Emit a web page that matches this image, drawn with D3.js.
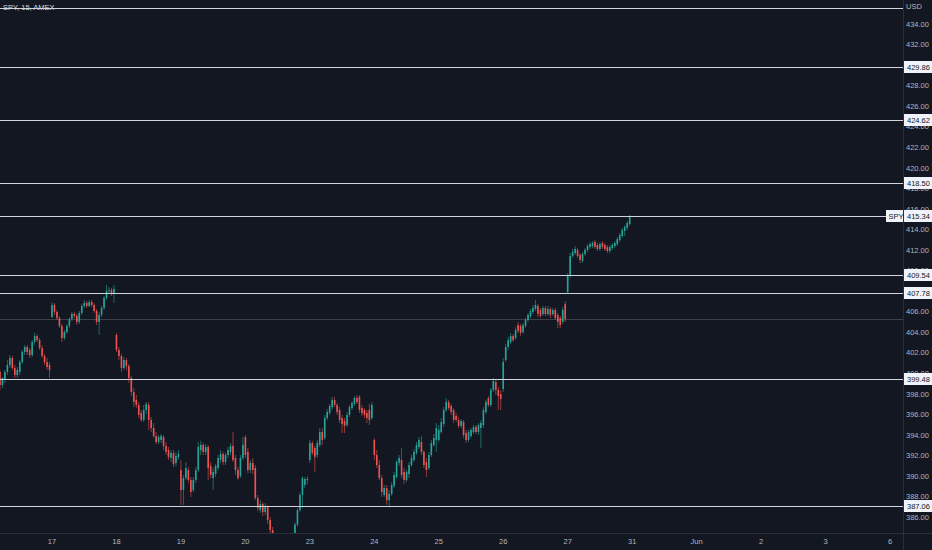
<!DOCTYPE html>
<html lang="en">
<head>
<meta charset="UTF-8">
<title>SPY, 15, AMEX</title>
<script src="https://d3js.org/d3.v7.min.js"></script>
<style>
  html, body { margin: 0; padding: 0; background: #131722; overflow: hidden; }
  #chart text { font-family: 'Liberation Sans', Roboto, sans-serif; }
</style>
</head>
<body>
<div id="chart"></div>
<script>
// 15 minute bars, [open, high, low, close] per bar, one array per session
const may16 = [
  [400.14, 400.34, 398.39, 398.88], [398.88, 399.65, 398.58, 399.56], [399.36, 400.34, 399.07, 400.14],
  [400.14, 401.31, 399.85, 400.82], [400.82, 401.79, 400.53, 401.50], [401.50, 401.70, 400.34, 400.53],
  [400.53, 400.82, 399.56, 399.85], [399.85, 400.63, 399.56, 400.34], [400.14, 401.31, 399.85, 401.11],
  [401.11, 402.28, 400.92, 402.09], [402.09, 402.77, 401.79, 402.57], [402.57, 402.77, 401.79, 402.09],
  [402.28, 402.48, 401.50, 401.79], [401.79, 403.25, 401.60, 403.06], [403.06, 403.94, 402.77, 403.64],
  [403.64, 403.84, 403.06, 403.25], [403.25, 403.45, 402.28, 402.48], [402.48, 402.77, 401.50, 401.70],
  [401.70, 401.90, 400.82, 401.11], [401.11, 401.50, 400.34, 400.63], [400.82, 401.11, 399.56, 400.34]
];
const may17 = [
  [405.49, 406.95, 405.39, 406.66], [406.66, 406.85, 405.69, 405.98], [405.98, 406.17, 405.20, 405.39],
  [405.39, 405.59, 404.42, 404.62], [404.62, 404.81, 403.06, 403.45], [403.45, 404.23, 403.25, 404.03],
  [404.03, 404.81, 403.84, 404.62], [404.62, 405.49, 404.42, 405.30], [405.30, 405.98, 405.10, 405.78],
  [405.78, 405.98, 405.39, 405.59], [405.59, 405.78, 404.71, 405.01], [405.01, 406.08, 404.81, 405.88],
  [405.88, 406.75, 405.69, 406.56], [406.56, 407.15, 406.37, 406.85], [406.85, 407.05, 406.37, 406.56],
  [406.56, 407.15, 406.46, 406.95], [406.95, 407.15, 406.46, 406.66], [406.66, 406.85, 405.88, 406.08],
  [406.08, 406.27, 404.71, 405.01], [405.01, 405.98, 403.74, 405.69], [405.69, 406.56, 405.49, 406.37],
  [406.37, 407.54, 406.17, 407.34], [407.34, 408.60, 407.15, 408.02], [408.02, 408.41, 407.73, 408.12],
  [408.12, 408.31, 407.54, 407.83], [407.83, 408.60, 406.85, 408.22]
];
const may18 = [
  [403.74, 403.94, 402.09, 402.28], [402.28, 402.57, 401.31, 401.70], [401.70, 401.90, 400.14, 400.53],
  [400.53, 401.60, 400.34, 401.31], [401.31, 401.50, 400.34, 400.72], [400.72, 400.92, 399.07, 399.56],
  [399.56, 399.75, 397.80, 398.19], [398.19, 398.58, 396.73, 397.22], [397.42, 397.90, 396.64, 396.93],
  [396.93, 397.22, 395.66, 395.96], [396.15, 396.44, 395.27, 395.47], [395.47, 396.93, 395.27, 396.44],
  [396.44, 397.22, 396.05, 397.03], [396.93, 397.22, 394.50, 395.47], [395.47, 395.76, 394.30, 394.69],
  [394.69, 395.18, 393.72, 393.91], [393.91, 394.30, 393.13, 393.33], [393.33, 394.01, 393.13, 393.81],
  [393.52, 394.11, 393.23, 393.91], [393.81, 394.01, 392.55, 392.94], [392.94, 393.33, 392.06, 392.36],
  [392.55, 392.84, 391.58, 391.87], [391.77, 392.55, 391.38, 392.26], [392.26, 392.55, 390.90, 391.19],
  [391.29, 392.36, 390.99, 391.97], [391.87, 392.55, 391.58, 392.16]
];
const may19 = [
  [390.60, 391.58, 387.20, 388.66], [388.66, 390.12, 387.20, 389.82], [389.82, 391.38, 389.63, 390.80],
  [390.60, 390.90, 389.34, 389.63], [389.63, 389.92, 387.98, 388.46], [388.66, 389.92, 388.46, 389.63],
  [389.63, 390.90, 389.34, 390.60], [390.60, 393.33, 390.41, 392.84], [392.55, 393.43, 392.06, 393.04],
  [393.04, 393.23, 392.06, 392.36], [392.36, 393.13, 392.06, 392.84], [392.84, 393.04, 389.63, 390.80],
  [391.00, 391.38, 389.82, 390.12], [389.82, 390.80, 388.66, 390.41], [390.21, 391.19, 389.92, 391.00],
  [390.80, 392.06, 390.60, 391.77], [391.58, 392.55, 391.29, 392.16], [392.16, 392.36, 391.09, 391.38],
  [391.38, 392.26, 391.09, 392.06], [392.06, 392.84, 391.77, 392.55], [392.36, 393.23, 392.06, 392.94],
  [392.94, 394.30, 391.38, 391.58], [391.77, 392.06, 390.12, 390.60], [390.60, 390.90, 389.63, 389.82],
  [390.02, 392.06, 389.82, 391.77], [391.77, 393.81, 391.58, 393.04]
];
const may20 = [
  [393.81, 394.01, 391.77, 392.06], [392.36, 392.74, 390.31, 390.60], [390.60, 391.58, 390.31, 391.29],
  [391.29, 391.77, 390.21, 390.60], [390.80, 391.09, 387.67, 387.88], [387.88, 388.17, 386.62, 386.91],
  [386.71, 387.67, 386.42, 387.29], [387.29, 387.49, 386.13, 386.52], [386.52, 387.39, 386.23, 387.00],
  [387.00, 387.20, 385.35, 385.74], [385.74, 386.03, 384.28, 384.77], [384.77, 385.06, 383.40, 383.79],
  [383.79, 384.20, 382.60, 382.90], [382.90, 383.60, 382.50, 383.30], [383.30, 383.50, 381.60, 381.90],
  [381.90, 382.30, 380.90, 381.20], [381.20, 382.00, 380.54, 381.80], [381.80, 382.10, 380.80, 381.10],
  [381.10, 382.40, 380.90, 382.20], [382.20, 383.50, 381.90, 383.20], [383.20, 385.50, 382.90, 385.30],
  [385.30, 386.90, 385.10, 386.70], [386.70, 388.40, 386.50, 388.17], [388.17, 390.00, 386.90, 389.82],
  [389.14, 389.92, 388.85, 389.73], [389.73, 390.00, 389.20, 389.63]
];
const may23 = [
  [391.58, 393.52, 391.29, 393.23], [393.23, 393.43, 392.06, 392.26], [392.74, 392.94, 390.41, 391.87],
  [392.06, 393.52, 391.77, 393.23], [393.04, 394.69, 392.84, 394.30], [394.30, 394.69, 393.04, 393.52],
  [393.72, 395.96, 393.52, 395.66], [395.66, 396.54, 395.47, 396.25], [396.15, 397.03, 395.96, 396.83],
  [396.73, 397.71, 396.44, 397.42], [397.42, 397.71, 396.73, 396.93], [396.93, 397.12, 395.96, 396.25],
  [396.44, 396.73, 395.18, 395.47], [395.66, 395.96, 394.20, 395.08], [395.37, 395.66, 394.20, 394.89],
  [394.98, 396.25, 394.79, 395.96], [395.96, 396.93, 395.76, 396.73], [396.64, 397.32, 396.44, 397.12],
  [397.03, 397.80, 396.83, 397.61], [397.61, 397.90, 397.03, 397.22], [397.71, 397.90, 396.15, 396.44],
  [396.64, 396.93, 395.86, 396.15], [396.44, 396.64, 395.66, 395.96], [396.15, 396.44, 395.18, 395.66],
  [396.44, 397.03, 394.98, 395.47], [395.66, 397.22, 395.47, 396.93]
];
const may24 = [
  [393.52, 393.72, 391.58, 392.06], [392.06, 392.55, 390.80, 391.09], [391.09, 391.58, 389.63, 389.82],
  [389.82, 390.12, 387.98, 388.46], [388.17, 389.14, 387.98, 388.85], [388.85, 389.14, 387.20, 387.67],
  [387.67, 388.66, 387.10, 388.27], [388.27, 389.43, 388.07, 389.14], [389.04, 390.41, 388.85, 390.12],
  [389.92, 391.58, 389.73, 391.38], [391.29, 392.06, 391.00, 391.77], [391.58, 392.74, 389.82, 390.12],
  [390.41, 390.80, 389.24, 389.63], [389.63, 390.60, 389.43, 390.41], [390.21, 391.38, 389.82, 391.09],
  [391.09, 392.06, 390.90, 391.77], [391.58, 392.65, 391.38, 392.36], [392.26, 393.33, 392.06, 393.04],
  [392.84, 393.81, 392.65, 393.52], [393.33, 393.91, 392.06, 392.36], [392.36, 392.55, 390.80, 391.09],
  [391.38, 391.77, 389.92, 390.60], [390.80, 392.36, 390.60, 392.06], [392.06, 393.52, 391.87, 393.23],
  [393.04, 394.11, 392.84, 393.72], [393.52, 395.18, 392.36, 394.69]
];
const may25 = [
  [393.52, 394.98, 393.33, 394.50], [394.30, 395.66, 394.11, 395.27], [395.08, 396.73, 394.79, 396.44],
  [396.44, 397.61, 396.25, 397.22], [397.22, 397.42, 396.44, 396.64], [396.83, 397.03, 395.96, 396.25],
  [396.44, 396.64, 395.18, 395.47], [395.86, 396.15, 395.27, 395.47], [395.47, 395.76, 394.69, 394.89],
  [394.89, 395.57, 394.69, 395.37], [395.27, 395.47, 393.72, 394.01], [394.20, 394.50, 393.23, 393.52],
  [393.52, 394.50, 393.33, 394.30], [393.91, 394.69, 393.72, 394.50], [394.30, 394.98, 394.11, 394.79],
  [394.79, 394.98, 394.11, 394.30], [394.30, 395.18, 394.01, 394.98], [394.69, 395.47, 392.74, 395.18],
  [394.98, 396.73, 394.69, 396.44], [396.25, 397.42, 396.05, 397.22], [397.61, 397.80, 396.73, 396.93],
  [396.93, 398.58, 396.73, 398.39], [398.39, 399.56, 398.19, 399.26], [399.17, 399.36, 397.90, 398.39],
  [398.39, 398.68, 396.44, 397.80], [398.00, 398.39, 396.44, 397.51]
];
const may26 = [
  [398.49, 401.50, 398.19, 401.11], [401.31, 402.86, 401.11, 402.57], [402.57, 403.55, 402.28, 403.25],
  [403.06, 403.94, 402.86, 403.64], [403.64, 403.84, 403.06, 403.25], [403.45, 404.52, 403.25, 404.23],
  [404.71, 405.01, 403.94, 404.13], [404.62, 404.81, 403.64, 403.94], [404.03, 404.91, 403.84, 404.71],
  [404.62, 405.39, 404.42, 405.20], [405.20, 405.88, 405.01, 405.69], [405.59, 406.27, 405.39, 406.08],
  [405.98, 406.66, 405.78, 406.37], [406.27, 407.15, 406.08, 406.66], [406.56, 406.75, 405.49, 405.78],
  [406.17, 406.37, 405.39, 405.59], [405.78, 406.56, 405.59, 406.37], [406.37, 406.56, 405.59, 405.78],
  [405.78, 406.56, 405.59, 406.27], [406.27, 406.46, 405.39, 405.69], [405.78, 406.37, 405.59, 406.17],
  [406.17, 406.37, 405.20, 405.39], [405.69, 405.88, 404.42, 405.01], [405.39, 405.59, 404.42, 404.71],
  [405.01, 406.46, 404.81, 406.17], [406.75, 407.04, 405.01, 405.31]
];
const may27 = [
  [407.92, 409.77, 407.83, 409.58], [409.48, 411.72, 409.29, 411.43], [411.43, 412.11, 411.23, 411.82],
  [411.72, 412.40, 411.52, 412.11], [412.01, 412.20, 411.23, 411.43], [411.52, 411.72, 410.75, 411.04],
  [410.94, 411.82, 410.75, 411.62], [411.62, 412.20, 411.43, 412.01], [412.01, 412.59, 411.82, 412.40],
  [412.30, 412.79, 412.11, 412.59], [412.40, 412.88, 412.20, 412.69], [412.79, 412.98, 412.11, 412.30],
  [412.50, 412.69, 411.91, 412.11], [412.11, 412.79, 411.91, 412.59], [412.69, 412.88, 412.11, 412.30],
  [412.50, 412.69, 411.91, 412.11], [412.30, 412.50, 411.72, 411.91], [411.91, 412.50, 411.72, 412.30],
  [412.20, 412.69, 412.01, 412.50], [412.40, 412.88, 412.20, 412.69], [412.59, 413.28, 412.40, 413.08],
  [412.98, 413.66, 412.79, 413.47], [413.37, 414.15, 413.18, 413.96], [413.86, 414.44, 413.37, 414.25],
  [414.15, 414.83, 413.96, 414.64], [414.54, 415.38, 414.35, 415.34]
];

const sessions = [may16, may17, may18, may19, may20, may23, may24, may25, may26, may27];
// session labels from the 17th on (16th is only partly on screen)
const dayLabels = ["17", "18", "19", "20", "23", "24", "25", "26", "27", "31", "Jun", "2", "3", "6"];
const barsPerDay = 26;

// horizontal rays drawn on the chart
const levels = [429.86, 424.62, 418.50, 409.54, 407.78, 399.48, 387.06];
const topRay = 435.6;
const lastPrice = 415.34;
const prevClose = 405.31;
const priceTicks = [386, 388, 390, 392, 394, 396, 398, 400, 402, 404, 406, 408, 410,
  412, 414, 416, 418, 420, 422, 424, 426, 428, 430, 432, 434];

const width = 932, height = 550;
const plotW = 903, plotH = 533;
const upColor = "#26a69a", downColor = "#ef5350";

const bars = [];
sessions.forEach(s => s.forEach(d => bars.push({ o: d[0], h: d[1], l: d[2], c: d[3], i: bars.length })));
const firstDay = may16.length;

const x = d3.scaleLinear()
  .domain([firstDay, firstDay + barsPerDay * 13])
  .range([52, 890]);
const y = d3.scaleLinear()
  .domain([384.47, 436.34])
  .range([plotH, 0]);

const svg = d3.select("#chart").append("svg")
  .attr("width", width)
  .attr("height", height)
  .style("display", "block")
  .style("background", "#131722");

svg.append("defs").append("clipPath").attr("id", "plot")
  .append("rect").attr("width", plotW).attr("height", plotH);

const plot = svg.append("g").attr("clip-path", "url(#plot)");

// previous close line
plot.append("line")
  .attr("x1", 0).attr("x2", plotW)
  .attr("y1", Math.round(y(prevClose)) + 0.5).attr("y2", Math.round(y(prevClose)) + 0.5)
  .attr("stroke", "#3d414c").attr("stroke-width", 1);

// candles
const bw = 1.6;
const candle = plot.selectAll("g.candle")
  .data(bars)
  .join("g")
  .attr("class", "candle");

candle.append("line")
  .attr("x1", d => x(d.i)).attr("x2", d => x(d.i))
  .attr("y1", d => y(d.h)).attr("y2", d => y(d.l))
  .attr("stroke", d => d.c >= d.o ? upColor : downColor)
  .attr("stroke-width", 0.7)
  .attr("opacity", 0.85);

candle.append("rect")
  .attr("x", d => x(d.i) - bw / 2)
  .attr("width", bw)
  .attr("y", d => y(Math.max(d.o, d.c)))
  .attr("height", d => Math.max(0.8, Math.abs(y(d.o) - y(d.c))))
  .attr("fill", d => d.c >= d.o ? upColor : downColor);

// horizontal rays
const rays = levels.concat([lastPrice, topRay]);
plot.selectAll("line.ray")
  .data(rays)
  .join("line")
  .attr("class", "ray")
  .attr("x1", 0).attr("x2", plotW)
  .attr("y1", d => Math.round(y(d)) + 0.5).attr("y2", d => Math.round(y(d)) + 0.5)
  .attr("stroke", "#d1d4dc")
  .attr("stroke-width", 1);

// pane borders
svg.append("line")
  .attr("x1", 0).attr("x2", width).attr("y1", plotH + 0.5).attr("y2", plotH + 0.5)
  .attr("stroke", "#2a2e39");
svg.append("line")
  .attr("x1", plotW + 0.5).attr("x2", plotW + 0.5).attr("y1", 0).attr("y2", height)
  .attr("stroke", "#2a2e39");

// price axis
const axisG = svg.append("g");
axisG.selectAll("text.tick")
  .data(priceTicks)
  .join("text")
  .attr("class", "tick")
  .attr("x", 906)
  .attr("y", d => y(d))
  .attr("dy", "0.35em")
  .attr("font-size", 7.5)
  .attr("fill", "#b2b5be")
  .text(d => d3.format(".2f")(d));

axisG.append("text")
  .attr("x", 906).attr("y", 9)
  .attr("font-size", 7.5).attr("fill", "#b2b5be")
  .text("USD");

// price labels for the rays
const labels = levels.concat([lastPrice]);
const lab = axisG.selectAll("g.lab")
  .data(labels)
  .join("g")
  .attr("class", "lab")
  .attr("transform", d => `translate(904,${Math.round(y(d))})`);
lab.append("rect")
  .attr("x", 0).attr("y", -6).attr("width", 28).attr("height", 12)
  .attr("fill", "#f0f3fa");
lab.append("text")
  .attr("x", 3).attr("y", 0).attr("dy", "0.35em")
  .attr("font-size", 7.5).attr("fill", "#131722")
  .text(d => d3.format(".2f")(d));

// symbol tag on the last price
const tag = svg.append("g").attr("transform", `translate(886,${Math.round(y(lastPrice))})`);
tag.append("rect").attr("x", 0).attr("y", -6).attr("width", 17).attr("height", 12).attr("fill", "#f0f3fa");
tag.append("text").attr("x", 2.5).attr("y", 0).attr("dy", "0.35em")
  .attr("font-size", 7.5).attr("fill", "#131722").text("SPY");

// time axis
svg.append("g").selectAll("text")
  .data(dayLabels)
  .join("text")
  .attr("x", (d, k) => x(firstDay + k * barsPerDay))
  .attr("y", 544)
  .attr("text-anchor", "middle")
  .attr("font-size", 7.5)
  .attr("fill", "#b2b5be")
  .text(d => d);

// legend
svg.append("text")
  .attr("x", 3).attr("y", 10)
  .attr("font-size", 7.5)
  .attr("fill", "#d1d4dc")
  .text("SPY, 15, AMEX");
</script>
</body>
</html>
